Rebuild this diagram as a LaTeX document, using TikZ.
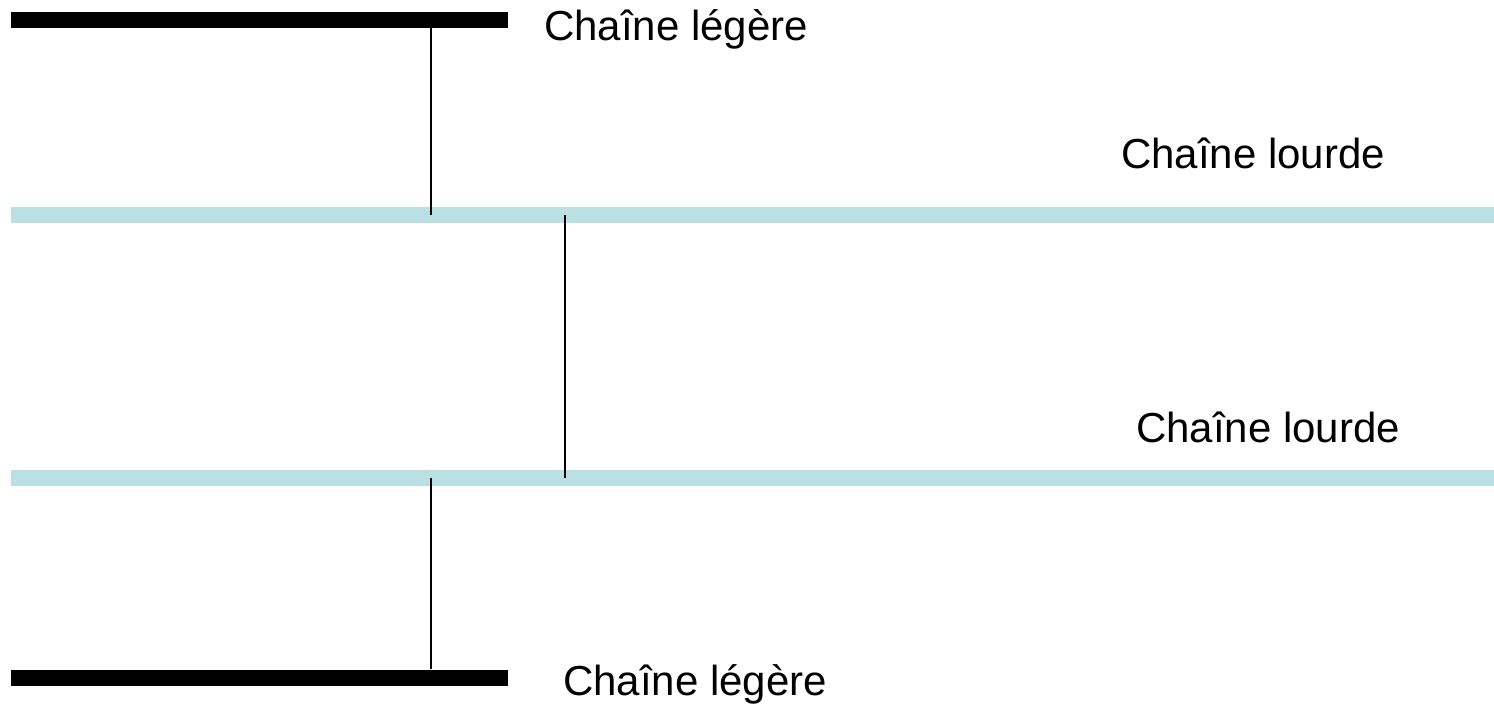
\documentclass[tikz,border=0pt]{standalone}
\usepackage{fontspec}
\setmainfont{Liberation Sans}
\definecolor{heavyblue}{RGB}{186,224,228}
\begin{document}
\begin{tikzpicture}[x=1pt,y=-1pt,
  lightbar/.style={rectangle,fill=black,inner sep=0pt,minimum width=497pt,minimum height=16pt},
  heavybar/.style={rectangle,fill=heavyblue,inner sep=0pt,minimum width=1483pt,minimum height=16pt},
  bond/.style={draw=black,line width=1.6pt},
  chainlabel/.style={anchor=base west,inner sep=0pt,font=\fontsize{42}{50}\selectfont}]
  \useasboundingbox (0,0) rectangle (1494,706);
  % light chains (black) and heavy chains (light blue)
  \node[lightbar] (lc1) at (259.5,20) {};
  \node[heavybar] (hc1) at (752.5,215) {};
  \node[heavybar] (hc2) at (752.5,478) {};
  \node[lightbar] (lc2) at (259.5,677.5) {};
  % positions of the disulfide bridges
  \coordinate (xa) at (431,0);
  \coordinate (xb) at (565,0);
  \draw[bond] (lc1.south -| xa) -- (hc1.center -| xa);
  \draw[bond] (hc1.center -| xb) -- (hc2.center -| xb);
  \draw[bond] (hc2.center -| xa) -- (lc2.north -| xa);
  % labels
  \node[chainlabel] (t1) at (544,41) {Chaîne légère};
  \node[chainlabel] (t2) at (1121,168) {Chaîne lourde};
  \node[chainlabel] (t3) at (1136,442) {Chaîne lourde};
  \node[chainlabel] (t4) at (563,695) {Chaîne légère};
\end{tikzpicture}
\end{document}
